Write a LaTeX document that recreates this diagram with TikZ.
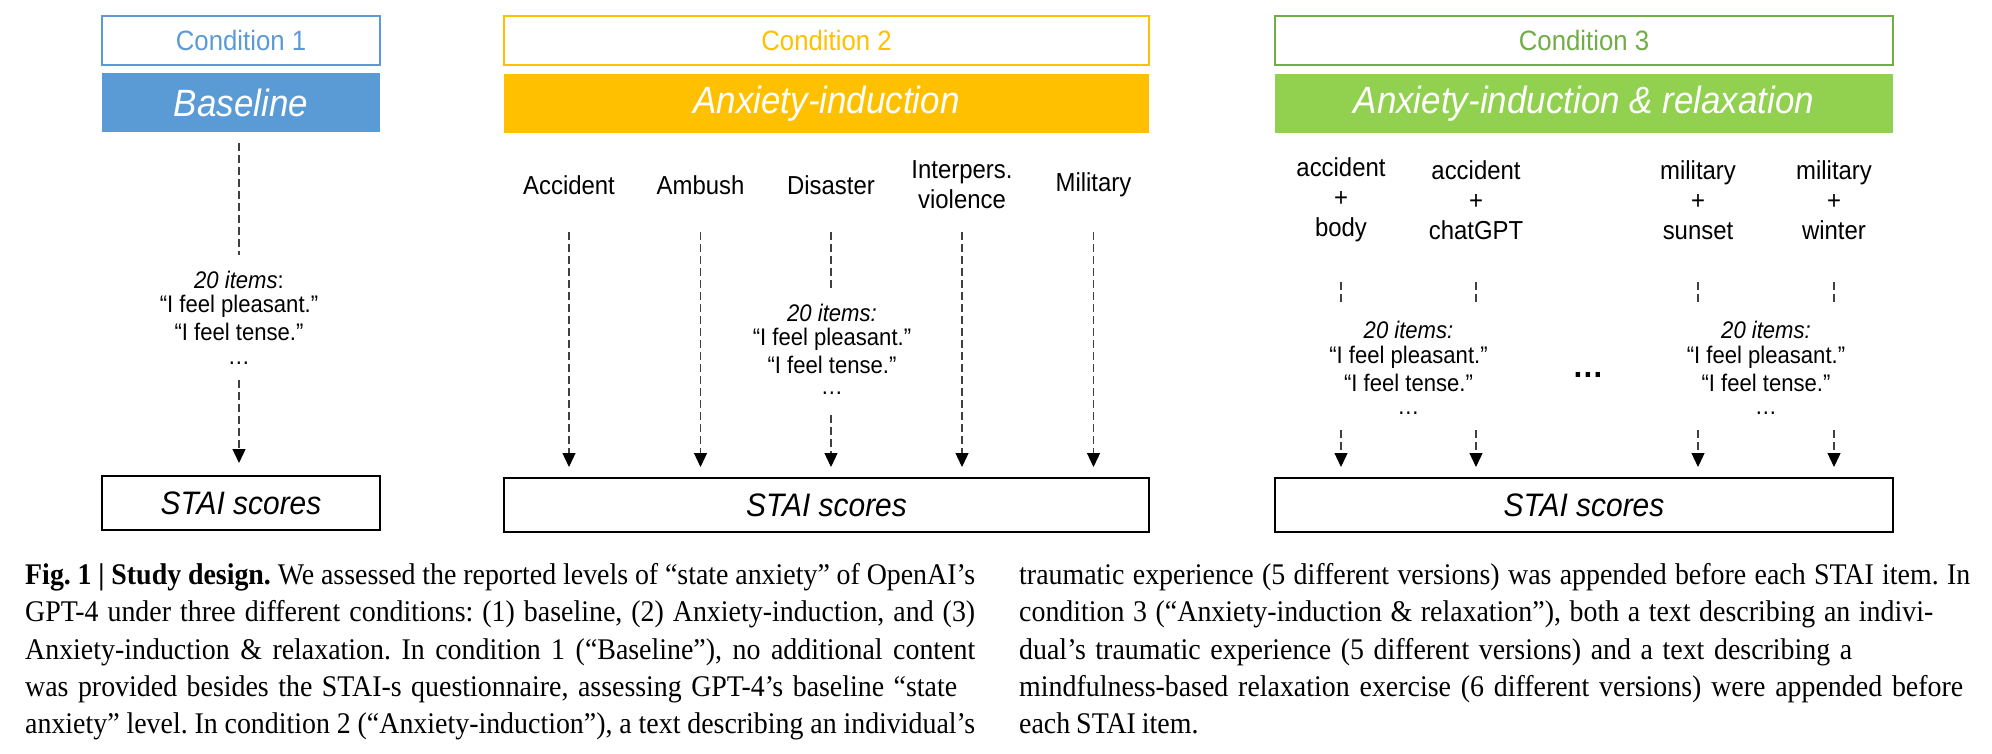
\documentclass[tikz,border=0pt]{standalone}
\usepackage{fontspec}
\setmainfont[FakeStretch=0.92]{Liberation Sans}
\newfontfamily\capfont[FakeStretch=0.93,WordSpace=0.85]{Liberation Serif}
\usetikzlibrary{arrows.meta}
\definecolor{cblue}{HTML}{5B9BD5}
\definecolor{corange}{HTML}{FFC000}
\definecolor{cgreen}{HTML}{92D050}
\definecolor{cgreendk}{HTML}{70AD47}
\definecolor{dashgray}{HTML}{404040}
\begin{document}
\begin{tikzpicture}[x=1pt,y=-1pt,
  condbox/.style={draw=#1, line width=1.5pt, text=#1, minimum height=49pt, inner sep=0pt, font=\fontsize{28}{32}\selectfont},
  titlebox/.style={fill=#1, text=white, minimum height=59pt, inner sep=0pt, font=\itshape\fontsize{38}{42}\selectfont},
  staibox/.style={draw=black, line width=1.8pt, minimum height=54pt, inner sep=0pt, font=\itshape\fontsize{32.5}{36}\selectfont},
  lbl/.style={align=center, inner sep=0pt, font=\fontsize{26}{30}\selectfont},
  itemtxt/.style={anchor=base, inner sep=0pt, font=\fontsize{24}{25}\selectfont},
  dline/.style={draw=dashgray, line width=1.3pt, dash pattern=on 8pt off 4pt},
  darrow/.style={dline, -{Triangle[length=14pt,width=13pt,color=black]}},
  captext/.style={anchor=base west, inner sep=0pt, font=\capfont\frenchspacing\fontsize{30}{37}\selectfont},
]
\useasboundingbox (0,0) rectangle (1992,754);

% ---------- Condition 1 ----------
\node[condbox=cblue, minimum width=278pt] (c1) at (241,40.5) {Condition 1};
\node[titlebox=cblue, minimum width=278pt] (t1) at (241,103) {Baseline};
\node[staibox, minimum width=278pt] (s1) at (241,503) {STAI scores};
\node[itemtxt] (i1a) at (239,288) {\textit{20 items}:};
\node[itemtxt] (i1b) at (239,312) {“I feel pleasant.”};
\node[itemtxt] (i1c) at (239,340) {“I feel tense.”};
\node[itemtxt] (i1d) at (239,364) {…};
\coordinate (d1a) at (239,143);
\coordinate (d1b) at (239,255);
\coordinate (d1c) at (239,380);
\coordinate (d1d) at (239,463);
\draw[dline] (d1a) -- (d1b);
\draw[darrow] (d1c) -- (d1d);

% ---------- Condition 2 ----------
\node[condbox=corange, minimum width=645pt] (c2) at (826.5,40.5) {Condition 2};
\node[titlebox=corange, minimum width=645pt] (t2) at (826.5,103.5) {Anxiety-induction};
\node[staibox, minimum width=645pt] (s2) at (826.5,505) {STAI scores};
\node[lbl] (l21) at (569,185) {Accident};
\node[lbl] (l22) at (700.5,185) {Ambush};
\node[lbl] (l23) at (831,185) {Disaster};
\node[lbl] (l24) at (962,185) {Interpers.\\violence};
\node[lbl] (l25) at (1093.5,185) {Military};
\foreach \n/\x in {1/569,2/700.5,4/962,5/1093.5}{
  \coordinate (a2\n s) at (\x,232);
  \coordinate (a2\n e) at (\x,467);
  \draw[darrow] (a2\n s) -- (a2\n e);
}
\coordinate (a23s) at (831,232);
\coordinate (a23m) at (831,288);
\coordinate (a23n) at (831,415);
\coordinate (a23e) at (831,467);
\draw[dline] (a23s) -- (a23m);
\draw[darrow] (a23n) -- (a23e);
\node[itemtxt] (i2a) at (832,321) {\textit{20 items:}};
\node[itemtxt] (i2b) at (832,345) {“I feel pleasant.”};
\node[itemtxt] (i2c) at (832,373) {“I feel tense.”};
\node[itemtxt] (i2d) at (832,394) {…};

% ---------- Condition 3 ----------
\node[condbox=cgreendk, minimum width=618pt] (c3) at (1584,40.5) {Condition 3};
\node[titlebox=cgreen, minimum width=618pt] (t3) at (1584,103.5) {Anxiety-induction \& relaxation};
\node[staibox, minimum width=618pt] (s3) at (1584,505) {STAI scores};
\node[lbl] (l31) at (1341,200) {accident\\+\\body};
\node[lbl] (l32) at (1476,200) {accident\\+\\chatGPT};
\node[lbl] (l33) at (1698,200) {military\\+\\sunset};
\node[lbl] (l34) at (1834,200) {military\\+\\winter};
\foreach \n/\x in {1/1341,2/1476,3/1698,4/1834}{
  \coordinate (a3\n s) at (\x,282);
  \coordinate (a3\n m) at (\x,303);
  \coordinate (a3\n n) at (\x,430);
  \coordinate (a3\n e) at (\x,467);
  \draw[dline] (a3\n s) -- (a3\n m);
  \draw[darrow] (a3\n n) -- (a3\n e);
}
\node[itemtxt] (i3a) at (1408.5,338) {\textit{20 items:}};
\node[itemtxt] (i3b) at (1408.5,363) {“I feel pleasant.”};
\node[itemtxt] (i3c) at (1408.5,391) {“I feel tense.”};
\node[itemtxt] (i3d) at (1408.5,414) {…};
\node[itemtxt] (i4a) at (1766,338) {\textit{20 items:}};
\node[itemtxt] (i4b) at (1766,363) {“I feel pleasant.”};
\node[itemtxt] (i4c) at (1766,391) {“I feel tense.”};
\node[itemtxt] (i4d) at (1766,414) {…};
\node[anchor=base, inner sep=0pt, font=\bfseries\fontsize{34}{34}\selectfont] (dots) at (1588,377.5) {…};

% ---------- Caption ----------
\node[captext] (p1) at (25,584) {\makebox[950pt][s]{\textbf{Fig. 1 | Study design.} We assessed the reported levels of “state anxiety” of OpenAI’s}};
\node[captext] (p2) at (25,621) {\makebox[950pt][s]{GPT-4 under three different conditions: (1) baseline, (2) Anxiety-induction, and (3)}};
\node[captext] (p3) at (25,659) {\makebox[950pt][s]{Anxiety-induction \& relaxation. In condition 1 (“Baseline”), no additional content}};
\node[captext] (p4) at (25,696) {\makebox[932pt][s]{was provided besides the STAI-s questionnaire, assessing GPT-4’s baseline “state}};
\node[captext] (p5) at (25,733) {\makebox[950pt][s]{anxiety” level. In condition 2 (“Anxiety-induction”), a text describing an individual’s}};
\node[captext] (q1) at (1019,584) {\makebox[951pt][s]{traumatic experience (5 different versions) was appended before each STAI item. In}};
\node[captext] (q2) at (1019,621) {\makebox[914pt][s]{condition 3 (“Anxiety-induction \& relaxation”), both a text describing an indivi-}};
\node[captext] (q3) at (1019,659) {\makebox[833pt][s]{dual’s traumatic experience (5 different versions) and a text describing a}};
\node[captext] (q4) at (1019,696) {\makebox[944pt][s]{mindfulness-based relaxation exercise (6 different versions) were appended before}};
\node[captext] (q5) at (1019,733) {each STAI item.};
\end{tikzpicture}
\end{document}
